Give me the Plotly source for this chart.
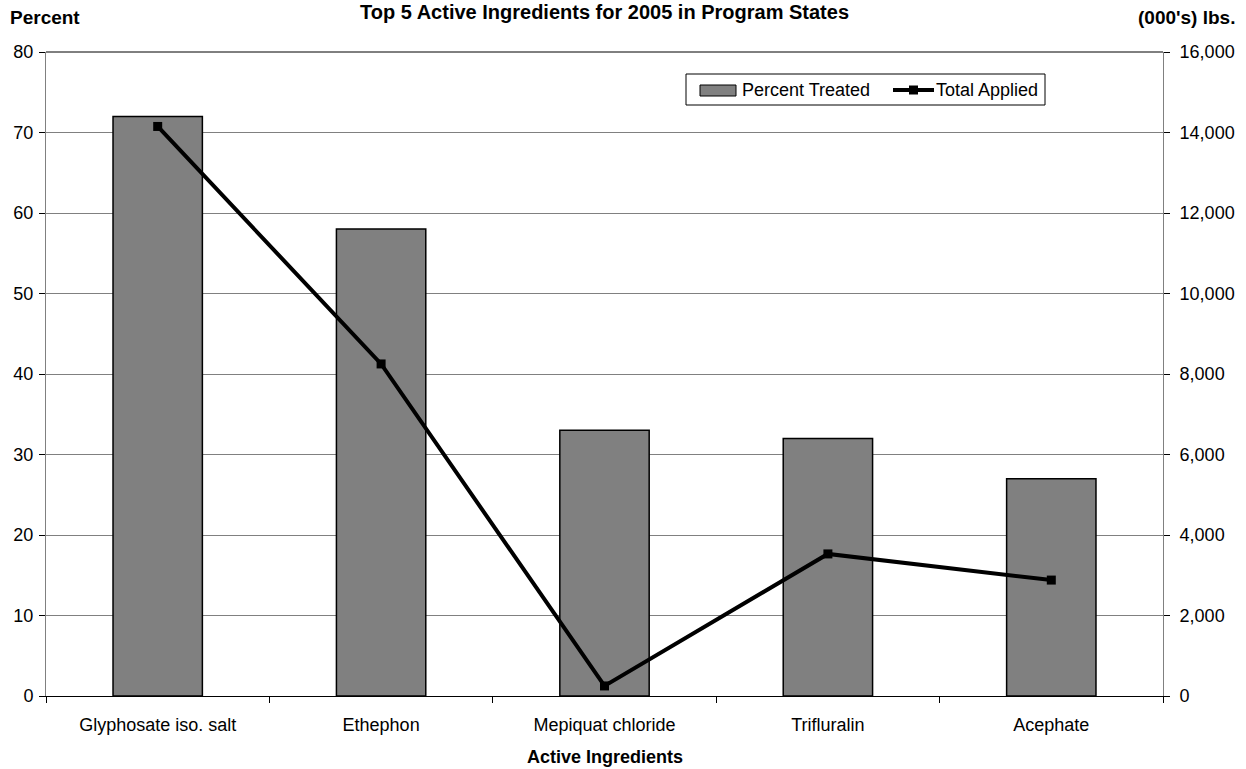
import plotly.graph_objects as go

ingredients = ["Glyphosate iso. salt", "Ethephon", "Mepiquat chloride", "Trifluralin", "Acephate"]
percent_treated = [72, 58, 33, 32, 27]
total_applied = [14150, 8250, 250, 3530, 2880]

FONT = "Liberation Sans, Arial, sans-serif"
W, H = 1246, 769
ML, MR, MT, MB = 46, 83, 52, 73
PW, PH = W - ML - MR, H - MT - MB


def px(x):
    """pixel x -> paper x"""
    return (x - ML) / PW


def py(y):
    """pixel y -> paper y"""
    return (H - MB - y) / PH


fig = go.Figure()

fig.add_trace(go.Bar(
    x=ingredients, y=percent_treated, name="Percent Treated",
    marker=dict(color="#808080", line=dict(color="black", width=1.5)),
    width=0.4, yaxis="y",
))

fig.add_trace(go.Scatter(
    x=ingredients, y=total_applied, name="Total Applied", mode="lines+markers",
    line=dict(color="black", width=4),
    marker=dict(symbol="square", size=9, color="black"),
    yaxis="y2",
))

fig.update_layout(
    width=W, height=H,
    margin=dict(l=ML, r=MR, t=MT, b=MB),
    paper_bgcolor="white", plot_bgcolor="white",
    font=dict(family=FONT, size=18, color="black"),
    showlegend=False,
    xaxis=dict(
        showgrid=False, showline=True, linecolor="black", linewidth=1,
        ticks="outside", ticklen=6, tickcolor="black", tickson="boundaries",
        tickfont=dict(size=18), ticklabelstandoff=12,
    ),
    yaxis=dict(
        range=[0, 80], dtick=10, showgrid=True, gridcolor="#808080", gridwidth=1,
        showline=True, linecolor="#808080", linewidth=1,
        ticks="outside", ticklen=6, tickcolor="black", zeroline=False,
        tickfont=dict(size=18), ticklabelstandoff=2,
    ),
    yaxis2=dict(
        range=[0, 16000], dtick=2000, tickformat=",", overlaying="y", side="right",
        showgrid=False, showline=True, linecolor="#808080", linewidth=1,
        ticks="outside", ticklen=6, tickcolor="black", zeroline=False,
        tickfont=dict(size=18), ticklabelstandoff=6,
    ),
)

# black frame line along the top of the plotting area
fig.add_shape(type="line", xref="paper", yref="paper", x0=0, x1=1, y0=1, y1=1,
              line=dict(color="black", width=1))

# legend box drawn by hand
fig.add_shape(type="rect", xref="paper", yref="paper",
              x0=px(686), x1=px(1045), y0=py(105), y1=py(74),
              line=dict(color="black", width=1), fillcolor="white")
fig.add_shape(type="rect", xref="paper", yref="paper",
              x0=px(700), x1=px(736), y0=py(96), y1=py(85),
              line=dict(color="black", width=1), fillcolor="#808080")
fig.add_annotation(text="Percent Treated", xref="paper", yref="paper",
                   x=px(740), y=py(90), xanchor="left", yanchor="middle",
                   showarrow=False, font=dict(size=18))
fig.add_shape(type="line", xref="paper", yref="paper",
              x0=px(893), x1=px(934), y0=py(90), y1=py(90),
              line=dict(color="black", width=4))
fig.add_shape(type="rect", xref="paper", yref="paper",
              x0=px(909), x1=px(918), y0=py(94.5), y1=py(85.5),
              line=dict(color="black", width=0), fillcolor="black")
fig.add_annotation(text="Total Applied", xref="paper", yref="paper",
                   x=px(934), y=py(90), xanchor="left", yanchor="middle",
                   showarrow=False, font=dict(size=18))

# titles
fig.add_annotation(text="<b>Top 5 Active Ingredients for 2005 in Program States</b>",
                   xref="paper", yref="paper", x=0.5, y=py(12),
                   xanchor="center", yanchor="middle",
                   showarrow=False, font=dict(size=20))
fig.add_annotation(text="<b>Percent</b>", xref="paper", yref="paper",
                   x=px(8), y=py(18), xanchor="left", yanchor="middle",
                   showarrow=False, font=dict(size=19))
fig.add_annotation(text="<b>(000's) lbs.</b>", xref="paper", yref="paper",
                   x=px(1237), y=py(18), xanchor="right", yanchor="middle",
                   showarrow=False, font=dict(size=19))
fig.add_annotation(text="<b>Active Ingredients</b>", xref="paper", yref="paper",
                   x=0.5, y=py(757), xanchor="center", yanchor="middle",
                   showarrow=False, font=dict(size=18))

fig.write_html("out.html")
